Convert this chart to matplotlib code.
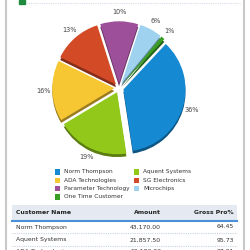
import matplotlib
matplotlib.use("Agg")
import matplotlib.pyplot as plt
import matplotlib.colors as mcolors
from matplotlib.patches import Rectangle

customers = ["Norm Thompson", "Aquent Systems", "ADA Technologies", "SG Electronics",
             "Parameter Technology", "Microchips", "One Time Customer"]
shares = [36, 19, 16, 13, 10, 6, 1]
colors = ["#1589d2", "#92c81a", "#f6c733", "#d24a26", "#9e4f9a", "#9fd2ef", "#3a9d26"]

table_cols = ["Customer Name", "Amount", "Gross Pro%"]
table_names = ["Norm Thompson", "Aquent Systems", "ADA Technologies"]
table_amounts = ["43,170.00", "21,857.50", "19,183.20"]
table_gross = ["64.45", "95.73", "97.21"]

FONT = "DejaVu Sans"
FS = 4.4
W = H = 250
fig = plt.figure(figsize=(2.5, 2.5), dpi=100)
fig.patch.set_facecolor("white")

# background canvas in pixel coords
bg = fig.add_axes([0, 0, 1, 1])
bg.set_xlim(0, W)
bg.set_ylim(H, 0)
bg.axis("off")
bg.plot([6, 6], [0, H], color="#c8c8c8", lw=1.5)
bg.plot([244, 244], [0, H], color="#c8c8c8", lw=1.5)
bg.add_patch(Rectangle((19, 0), 6, 3.5, color="#1e8a3c"))
bg.plot([26, 240], [2.5, 2.5], color="#d6dde8", lw=0.8, ls=(0, (1, 1)))

# pie
cx, cy, size = 119, 88, 170
pa = fig.add_axes([(cx - size / 2) / W, 1 - (cy + size / 2) / H, size / W, size / H])
lim = 1.37
explode = [0.075] * len(shares)
dark = [tuple(c * 0.62 for c in mcolors.to_rgb(col)) for col in colors]
shadow, _ = pa.pie(shares, colors=dark, startangle=47, counterclock=False,
                   explode=explode, center=(0.0, -0.045),
                   wedgeprops=dict(linewidth=0))
wedges, texts = pa.pie(shares, colors=colors, startangle=47, counterclock=False,
                       explode=explode,
                       labels=[f"{s}%" for s in shares], labeldistance=1.15,
                       textprops=dict(fontsize=FS + 0.3, color="#444444", family=FONT),
                       wedgeprops=dict(linewidth=0))
for t in texts:
    t.set_ha("center")
    t.set_va("center")
pa.set_xlim(-lim, lim)
pa.set_ylim(-lim, lim)
pa.set_aspect("equal")
pa.axis("off")

# legend, row-major (two columns) as in reference
leg_x = [55, 134]
leg_y0, leg_dy = 172, 8.3
for i, (name, col) in enumerate(zip(customers, colors)):
    r, c = divmod(i, 2)
    x, y = leg_x[c], leg_y0 + r * leg_dy
    bg.add_patch(Rectangle((x, y - 2.6), 5.2, 5.2, color=col, lw=0))
    bg.text(x + 9, y, name, ha="left", va="center", fontsize=FS - 0.2, color="#333333", family=FONT)

# table
bg.add_patch(Rectangle((12, 205), 225, 15, color="#e5eaf2", lw=0))
bg.plot([12, 237], [220.5, 220.5], color="#4a90d9", lw=1.5)
hx = [16, 161, 234]
has = ["left", "right", "right"]
for x, ha, lab in zip(hx, has, table_cols):
    bg.text(x, 213, lab, ha=ha, va="center", fontsize=FS, fontweight="bold",
            color="#222222", family=FONT)
rows_y = [227, 240, 251.5]
for i, y in enumerate(rows_y):
    bg.text(hx[0], y, table_names[i], ha="left", va="center", fontsize=FS, color="#333333", family=FONT)
    bg.text(hx[1], y, table_amounts[i], ha="right", va="center", fontsize=FS, color="#333333", family=FONT)
    bg.text(hx[2], y, table_gross[i], ha="right", va="center", fontsize=FS, color="#333333", family=FONT)
    bg.plot([12, 237], [y + 6.3, y + 6.3], color="#c9d3e0", lw=0.8, ls=(0, (1, 1)))

fig.savefig("out.png", dpi=100, facecolor="white")
